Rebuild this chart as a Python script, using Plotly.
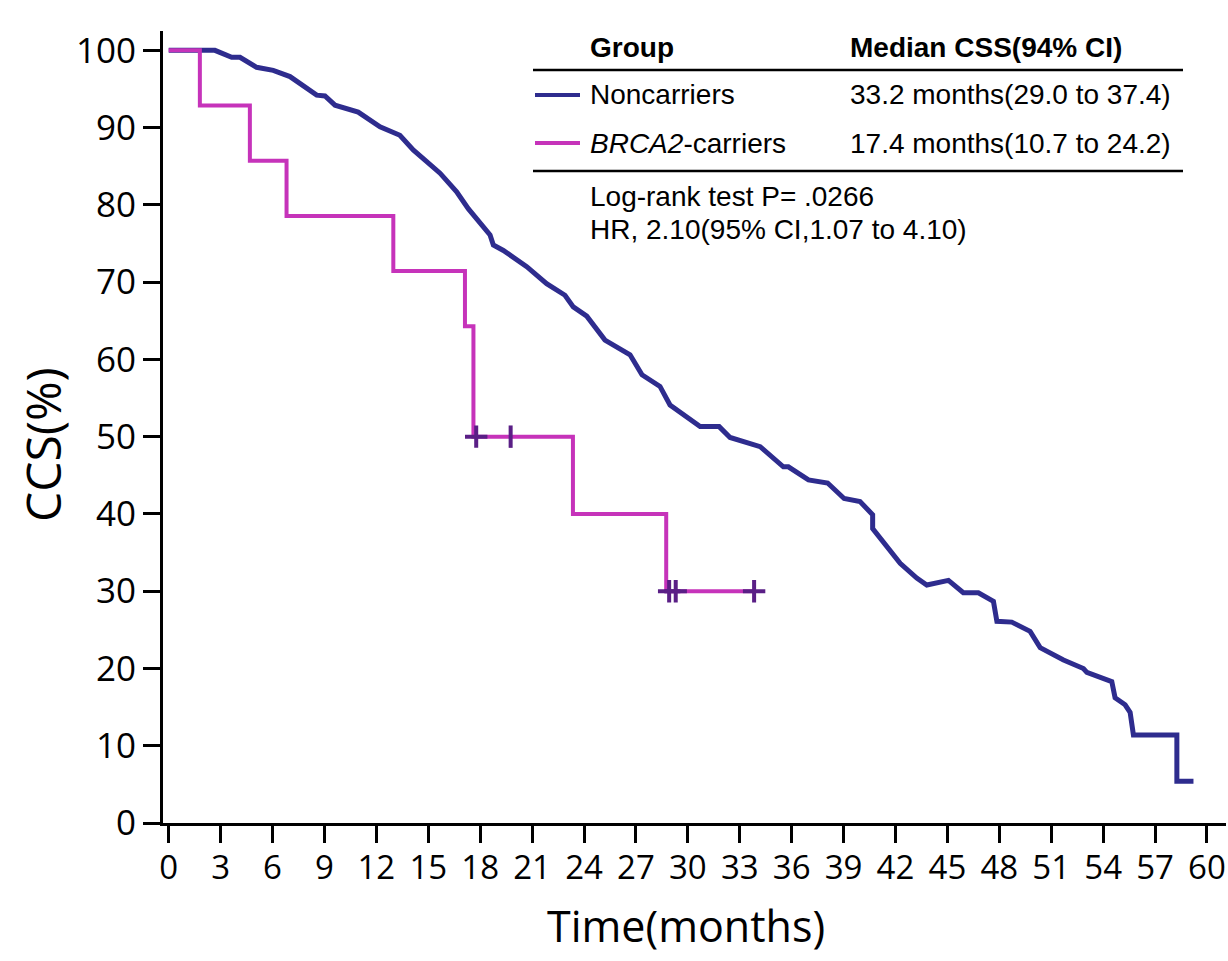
import plotly.graph_objects as go

# ---------------- data ----------------
noncarrier_time = [0, 2.67, 3.64, 4.12, 5.08, 6.04, 7.01, 8.55, 9.03, 9.61, 10.95, 12.21, 13.36, 14.13,
                   14.91, 15.68, 16.64, 17.31, 18.57, 18.76, 19.34, 20.69, 21.84, 22.90, 23.38, 24.16,
                   25.21, 26.66, 27.35, 28.39, 28.97, 30.71, 31.81, 32.44, 34.18, 35.52, 35.81, 36.97,
                   38.08, 39.03, 39.95, 40.68, 40.68, 41.54, 42.27, 43.23, 43.81, 45.06, 45.92, 46.79,
                   47.66, 47.86, 48.72, 49.78, 50.36, 51.71, 52.09, 52.86, 53.06, 54.02, 54.50, 54.69,
                   55.27, 55.56, 55.75, 58.26, 58.26, 59.22]
noncarrier_surv = [100, 100, 99.1, 99.1, 97.8, 97.4, 96.6, 94.2, 94.1, 92.9, 92.0, 90.1, 89.0, 87.1,
                   85.6, 84.1, 81.7, 79.5, 76.1, 74.8, 74.1, 72.0, 69.8, 68.3, 66.8, 65.6,
                   62.5, 60.6, 58.0, 56.5, 54.1, 51.3, 51.3, 49.9, 48.7, 46.1, 46.1, 44.4,
                   44.0, 42.0, 41.6, 39.9, 38.1, 35.6, 33.6, 31.7, 30.8, 31.4, 29.8, 29.8,
                   28.7, 26.1, 26.0, 24.8, 22.7, 21.1, 20.7, 20.0, 19.5, 18.6, 18.3, 16.2,
                   15.3, 14.3, 11.4, 11.4, 5.4, 5.4]

carrier_time = [0, 1.80, 4.69, 6.81, 12.98, 17.12, 17.61, 23.36, 28.75, 33.83]
carrier_surv = [100, 92.86, 85.71, 78.57, 71.43, 64.29, 50.0, 40.0, 30.0, 30.0]

censor_time = [17.77, 19.76, 28.92, 29.30, 33.83]
censor_surv = [50.0, 50.0, 30.0, 30.0, 30.0]

x_ticks = list(range(0, 61, 3))
y_ticks = list(range(0, 101, 10))

x_title = "Time(months)"
y_title = "CCS(%)"
group_names = ["Noncarriers", "<i>BRCA2</i>-carriers"]
group_medians = ["33.2 months(29.0 to 37.4)", "17.4 months(10.7 to 24.2)"]
table_header = ["Group", "Median CSS(94% CI)"]
stats_lines = ["Log-rank test P= .0266", "HR, 2.10(95% CI,1.07 to 4.10)"]

# ---------------- styles ----------------
BLUE = "#2E2C8E"
MAGENTA = "#C633BA"
CENSOR = "#5A1F86"
W, H = 1228, 961
ML, MR, MT, MB = 163, 2, 31, 138
PW, PH = W - ML - MR, H - MT - MB


def px(xp):
    return (xp - ML) / PW


def py(yp):
    return (H - MB - yp) / PH


fig = go.Figure()
fig.add_trace(go.Scatter(x=noncarrier_time, y=noncarrier_surv, mode="lines",
                         line=dict(color=BLUE, width=5), name="Noncarriers",
                         showlegend=False))
fig.add_trace(go.Scatter(x=carrier_time, y=carrier_surv, mode="lines",
                         line=dict(color=MAGENTA, width=4, shape="hv"), name="BRCA2-carriers",
                         showlegend=False))
fig.add_trace(go.Scatter(x=censor_time, y=censor_surv, mode="markers",
                         marker=dict(symbol=["cross-thin", "line-ns", "cross-thin", "cross-thin", "cross-thin"],
                                     size=16, line=dict(color=CENSOR, width=4), color=CENSOR),
                         showlegend=False, name="Censored"))

# table-style legend
font_tab = "Liberation Sans, Arial, sans-serif"
ann = []
col1, col2 = 588, 848
ann.append(dict(x=px(col1), y=py(47), text="<b>" + table_header[0] + "</b>"))
ann.append(dict(x=px(col2), y=py(47), text="<b>" + table_header[1] + "</b>"))
rows_y = [95, 143]
for i in range(2):
    ann.append(dict(x=px(col1), y=py(rows_y[i]), text=group_names[i]))
    ann.append(dict(x=px(col2), y=py(rows_y[i]), text=group_medians[i]))
ann.append(dict(x=px(col1), y=py(197), text=stats_lines[0]))
ann.append(dict(x=px(col1), y=py(229), text=stats_lines[1]))
for a in ann:
    a.update(xref="paper", yref="paper", xanchor="left", yanchor="middle", showarrow=False,
             font=dict(family=font_tab, size=28, color="black"))

# axis titles
ann.append(dict(x=px(686), y=py(926), xref="paper", yref="paper", text=x_title, showarrow=False,
                xanchor="center", yanchor="middle",
                font=dict(family="Open Sans, sans-serif", size=43, color="black")))
ann.append(dict(x=px(42), y=py(445), xref="paper", yref="paper", text=y_title, showarrow=False,
                xanchor="center", yanchor="middle", textangle=-90,
                font=dict(family="Open Sans, sans-serif", size=48, color="black")))

shapes = [
    dict(type="line", xref="paper", yref="paper", x0=px(533), x1=px(1183), y0=py(70), y1=py(70),
         line=dict(color="black", width=2.5)),
    dict(type="line", xref="paper", yref="paper", x0=px(533), x1=px(1183), y0=py(171), y1=py(171),
         line=dict(color="black", width=2.5)),
    dict(type="line", xref="paper", yref="paper", x0=px(535), x1=px(580), y0=py(95), y1=py(95),
         line=dict(color=BLUE, width=4)),
    dict(type="line", xref="paper", yref="paper", x0=px(535), x1=px(580), y0=py(143), y1=py(143),
         line=dict(color=MAGENTA, width=4)),
]

axis_common = dict(showline=True, linewidth=3, linecolor="black", ticks="outside", ticklen=17,
                   tickwidth=3, tickcolor="black", showgrid=False, zeroline=False)

fig.update_layout(
    width=W, height=H,
    margin=dict(l=ML, r=MR, t=MT, b=MB),
    paper_bgcolor="white", plot_bgcolor="white",
    annotations=ann, shapes=shapes,
    xaxis=dict(range=[-0.33, 61.1], tickvals=x_ticks, ticktext=[str(v) for v in x_ticks],
               tickfont=dict(family="Open Sans, sans-serif", size=33, color="black"),
               ticklabelstandoff=-4, **axis_common),
    yaxis=dict(range=[0, 102.5], tickvals=y_ticks, ticktext=[str(v) for v in y_ticks],
               tickfont=dict(family="Open Sans, sans-serif", size=35, color="black"),
               **axis_common),
)

fig.write_html("out.html")
